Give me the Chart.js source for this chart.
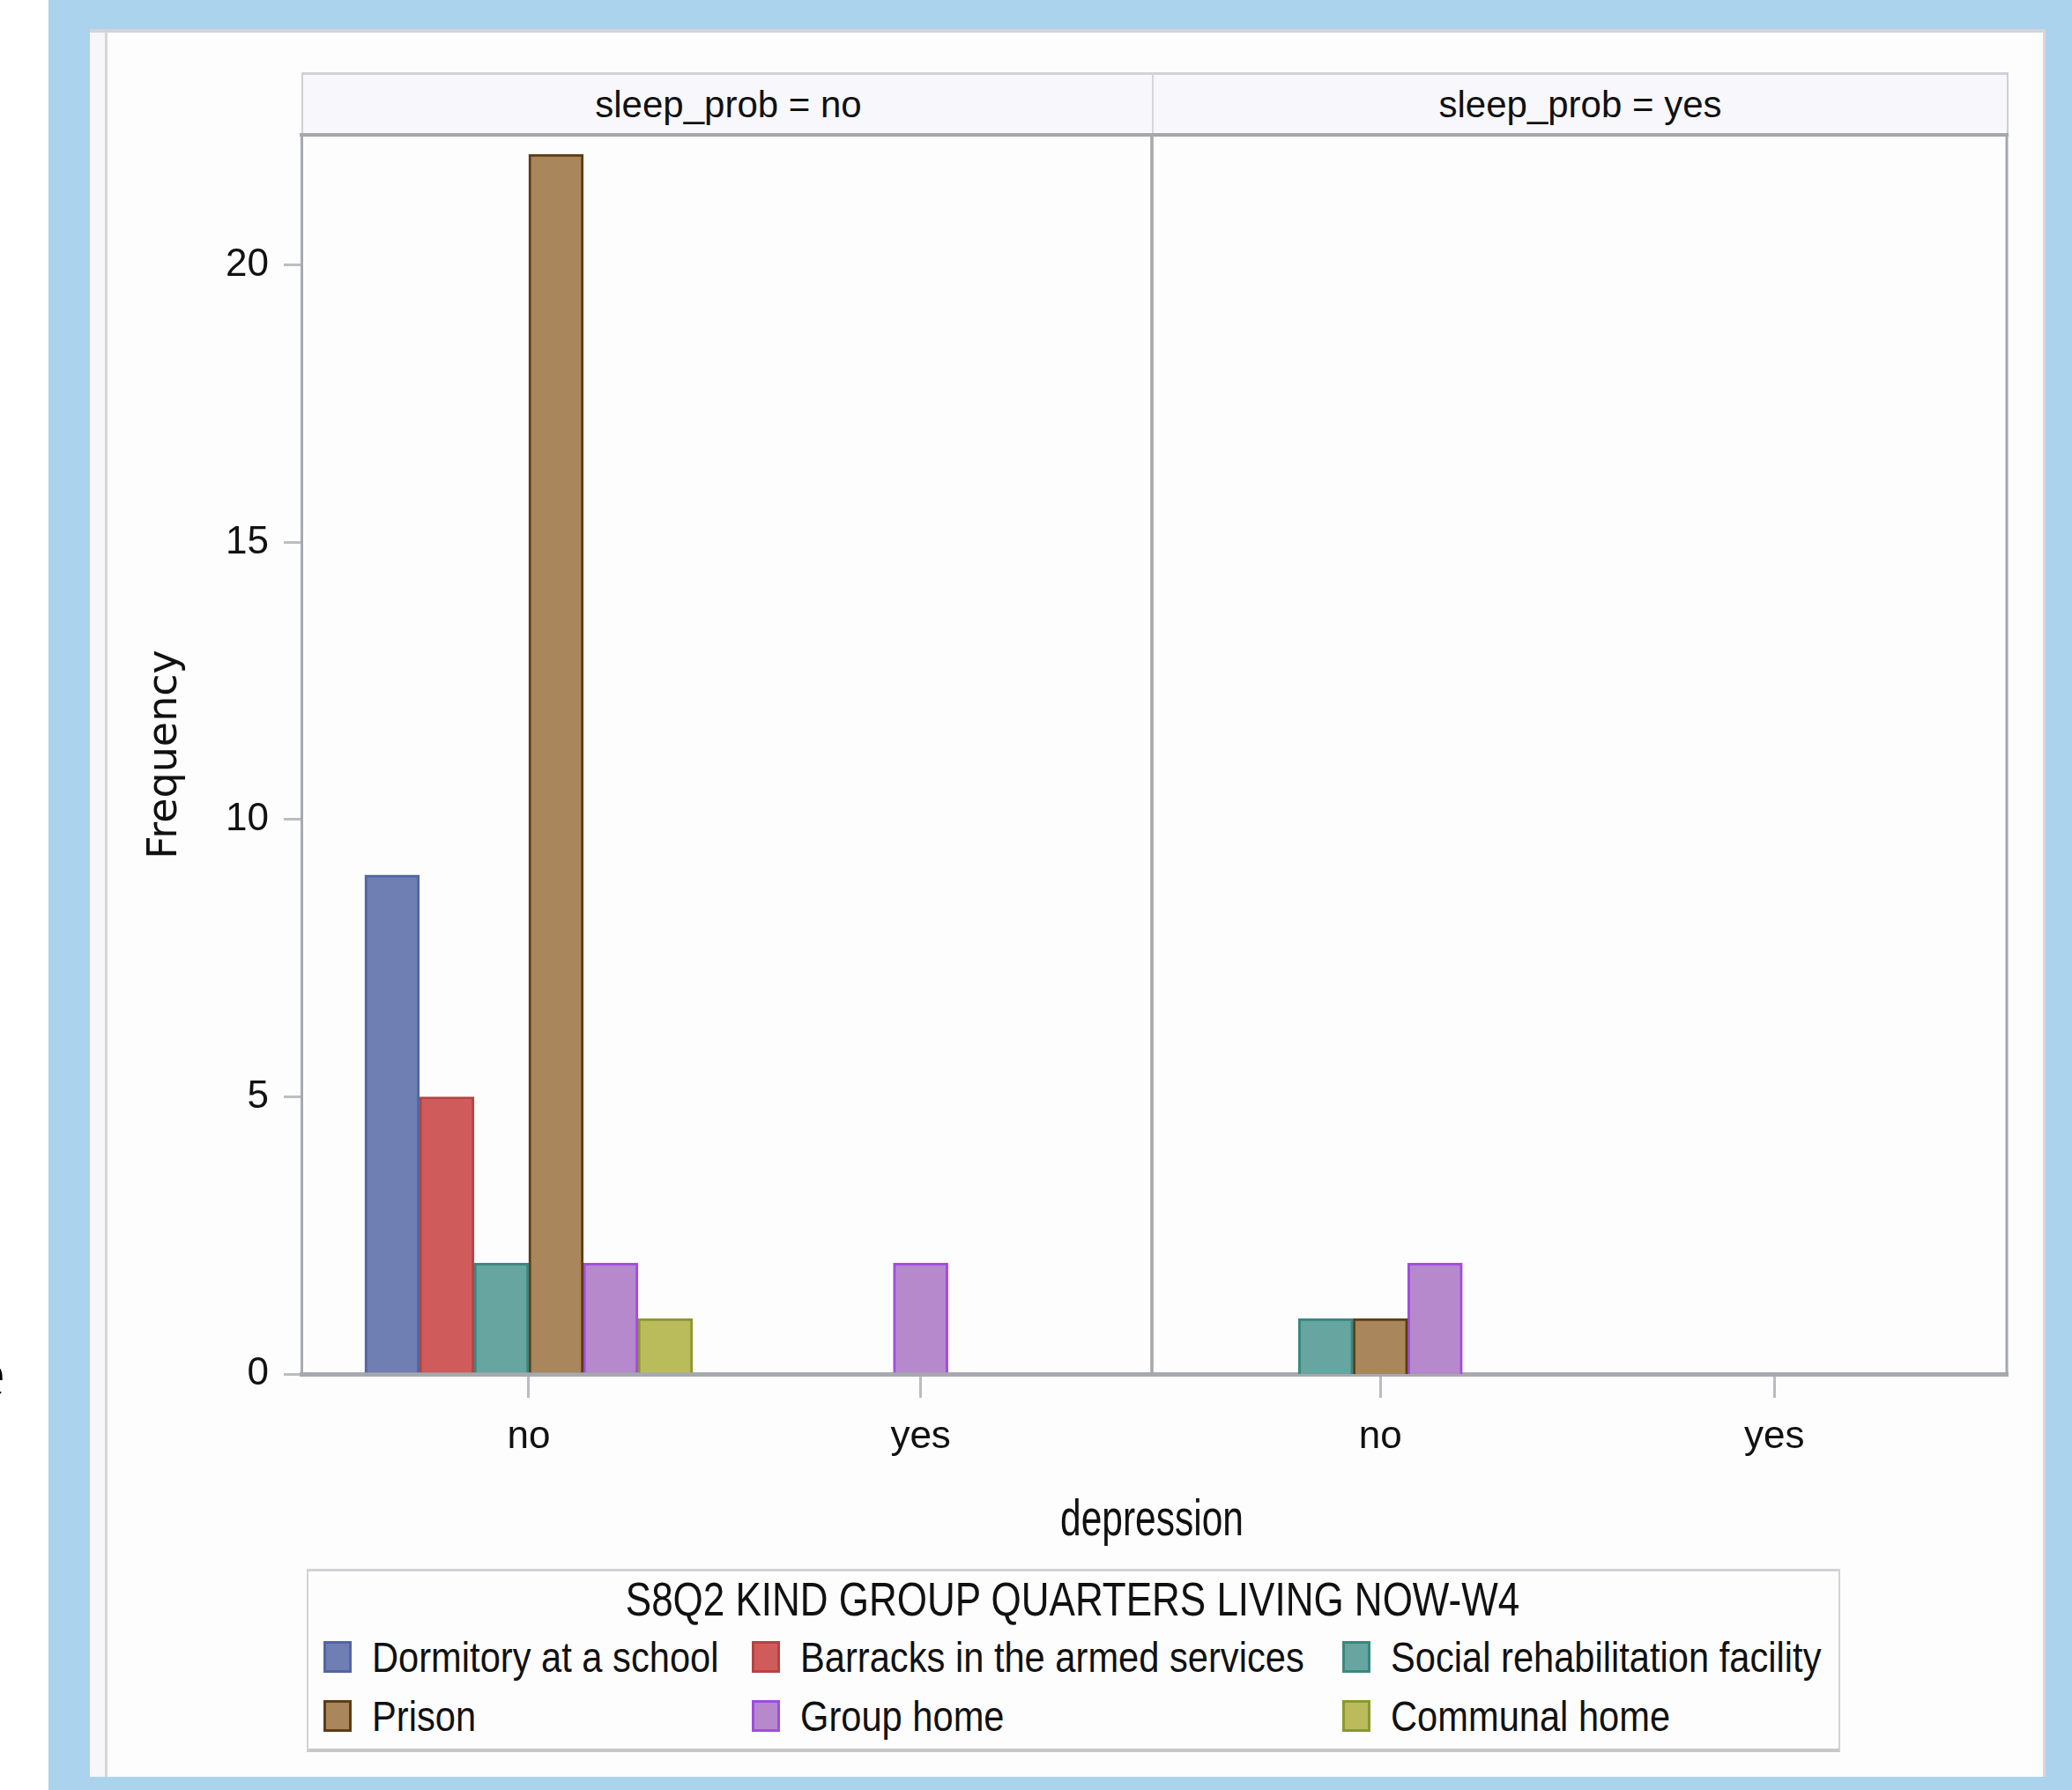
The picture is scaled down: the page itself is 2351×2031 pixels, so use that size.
<!DOCTYPE html>
<html>
<head>
<meta charset="utf-8">
<script src="https://cdn.jsdelivr.net/npm/chart.js@4.4.1/dist/chart.umd.min.js"></script>
<style>
html, body { margin: 0; padding: 0; width: 2351px; height: 2031px; overflow: hidden; background: #fff; }
body { position: relative; font-family: "Liberation Sans", Arial, sans-serif; color: #111; }
.abs { position: absolute; }
#frame { left: 55px; top: 0; width: 2296px; height: 2031px; background: #acd3ee; }
#panel { left: 102px; top: 33px; width: 2216px; height: 1979px; background: #fdfdfe; border-top: 4px solid #d4d4d8; border-right: 3px solid #d6d6da; }
#strip { left: 102px; top: 37px; width: 17px; height: 1979px; background: #f6f6fb; border-right: 3px solid #d6d6d8; }
#edgeE { left: -28px; top: 1520px; font: 75px/75px "Liberation Serif", serif; color: #000; }
.hcell { top: 82px; height: 68px; background: #f8f8fc; border-top: 3px solid #d2d2d6; text-align: center; font-size: 42px; line-height: 68px; white-space: nowrap; box-sizing: content-box; }
canvas { position: absolute; }
#xtitle { left: 1307px; top: 1694px; font-size: 57px; line-height: 57px; white-space: nowrap; transform: translateX(-50%) scaleX(0.745); }
#legBox { left: 348px; top: 1780px; width: 1736px; height: 201px; background: #fdfdfe; border: 2px solid #d2d2d6; border-top-width: 3px; border-bottom: 4px solid #c8c8cc; }
#legTitle { left: 1217px; top: 1788px; font-size: 53px; line-height: 53px; white-space: nowrap; transform: translateX(-50%) scaleX(0.83); }
.swatch { width: 32px; height: 36px; box-sizing: border-box; border: 3px solid; }
.legText { font-size: 49px; line-height: 49px; white-space: nowrap; transform: scaleX(0.85); transform-origin: left center; }
</style>
</head>
<body>
<div id="frame" class="abs"></div>
<div id="panel" class="abs"></div>
<div id="strip" class="abs"></div>
<span id="edgeE" class="abs">e</span>
<div id="h1" class="abs hcell" style="left:342px;width:965px;border-left:2px solid #cfcfd3;"></div>
<div id="h2" class="abs hcell" style="left:1307px;width:968px;border-left:2px solid #d6d6da;border-right:2px solid #cfcfd3;"></div>
<canvas id="c1" width="1180" height="1537" style="left:130px;top:143px;"></canvas>
<canvas id="c2" width="1000" height="1537" style="left:1304px;top:143px;"></canvas>
<div id="xtitle" class="abs">depression</div>
<div id="legBox" class="abs"></div>
<div id="legTitle" class="abs">S8Q2 KIND GROUP QUARTERS LIVING NOW-W4</div>
<script>
// facet + category labels
const facetLabels = ['sleep_prob = no', 'sleep_prob = yes'];
const depressionCats = ['no', 'yes'];
const groupNames = ['Dormitory at a school', 'Barracks in the armed services', 'Social rehabilitation facility',
                    'Prison', 'Group home', 'Communal home'];

// frequencies per group (null = no bar in that cluster)
const sleepNoDepNo   = [9, 5, 2, 22, 2, 1];
const sleepNoDepYes  = [null, null, null, null, 2, null];
const sleepYesDepNo  = [null, null, 1, 1, 2, null];
const sleepYesDepYes = [null, null, null, null, null, null];

const yTicks = [0, 5, 10, 15, 20];
const yMax = 22.35;

const fillColors = ['#6f7eb3', '#d05b5b', '#66a5a0', '#a9865b', '#b689cd', '#babc5c'];
const edgeColors = ['#5465a0', '#b54343', '#3a877f', '#5e3d14', '#a24be0', '#8b982e'];

const tickFont = { family: '"Liberation Sans", Arial, sans-serif', size: 44 };

document.getElementById('h1').textContent = facetLabels[0];
document.getElementById('h2').textContent = facetLabels[1];

// top / right / (left) frame lines of each facet
const framePlugin = {
    id: 'frame',
    beforeDatasetsDraw(chart, args, opts) {
        const ctx = chart.ctx;
        const a = chart.chartArea;
        ctx.save();
        ctx.strokeStyle = '#a4a7ab';
        ctx.lineWidth = 4;
        ctx.beginPath();
        ctx.moveTo(a.left - 2, a.top);
        ctx.lineTo(a.right + 2, a.top);
        ctx.stroke();
        ctx.lineWidth = 3;
        ctx.beginPath();
        ctx.moveTo(a.right, a.top);
        ctx.lineTo(a.right, a.bottom);
        if (opts.left) {
            ctx.moveTo(a.left, a.top);
            ctx.lineTo(a.left, a.bottom);
        }
        ctx.stroke();
        ctx.restore();
    }
};

function makeChart(id, depNo, depYes, showY, padding) {
    const datasets = groupNames.map(function (name, g) {
        return {
            label: name,
            data: [{ x: 0, y: depNo[g] }, { x: 1, y: depYes[g] }],
            backgroundColor: fillColors[g],
            borderColor: edgeColors[g],
            borderWidth: 3,
            barThickness: 62,
            skipNull: true
        };
    });

    return new Chart(document.getElementById(id), {
        type: 'bar',
        data: { datasets },
        plugins: [framePlugin],
        options: {
            responsive: false,
            devicePixelRatio: 1,
            animation: false,
            layout: { padding },
            plugins: {
                legend: { display: false },
                tooltip: { enabled: false },
                frame: { left: !showY }
            },
            scales: {
                x: {
                    type: 'linear',
                    offset: false,
                    min: -0.58,
                    max: 1.59,
                    afterBuildTicks: s => { s.ticks = depressionCats.map((c, i) => ({ value: i })); },
                    afterFit: s => {
                        s.height = 121;
                        s.paddingLeft = 0;
                        s.paddingRight = 0;
                    },
                    ticks: { callback: v => depressionCats[v], font: tickFont, color: '#111', padding: 18, maxRotation: 0, autoSkip: false },
                    grid: { offset: false, drawOnChartArea: false, tickLength: 27, lineWidth: 3, color: '#b9bcc0' },
                    border: { color: '#a6a9ad', width: 5 }
                },
                y: {
                    display: showY,
                    min: 0,
                    max: yMax,
                    afterBuildTicks: s => { s.ticks = yTicks.map(v => ({ value: v })); },
                    afterFit: s => {
                        if (showY) s.width = 212;
                        s.paddingTop = 0;
                        s.paddingBottom = 0;
                    },
                    ticks: { font: tickFont, color: '#111', padding: 17 },
                    grid: { drawOnChartArea: false, tickLength: 20, lineWidth: 3, color: '#bbbec2' },
                    border: { color: '#a6a9ad', width: 3 },
                    title: {
                        display: true,
                        text: 'Frequency',
                        color: '#111',
                        font: { family: '"DejaVu Sans", sans-serif', size: 46 },
                        padding: { top: 30, bottom: 0 }
                    }
                }
            }
        }
    });
}

const chart1 = makeChart('c1', sleepNoDepNo, sleepNoDepYes, true, { top: 10, right: 3, left: 0, bottom: 0 });
const chart2 = makeChart('c2', sleepYesDepNo, sleepYesDepYes, false, { top: 10, right: 27, left: 3, bottom: 0 });

// legend grid (3 columns, 2 rows)
const legCols = [367, 853, 1523];
const legRows = [1862, 1929];
groupNames.forEach(function (name, i) {
    const col = legCols[i % 3];
    const row = legRows[Math.floor(i / 3)];
    const sw = document.createElement('div');
    sw.className = 'abs swatch';
    sw.style.left = col + 'px';
    sw.style.top = row + 'px';
    sw.style.background = fillColors[i];
    sw.style.borderColor = edgeColors[i];
    document.body.appendChild(sw);
    const tx = document.createElement('div');
    tx.className = 'abs legText';
    tx.style.left = (col + 55) + 'px';
    tx.style.top = (row - 6) + 'px';
    tx.textContent = name;
    document.body.appendChild(tx);
});
</script>
</body>
</html>
